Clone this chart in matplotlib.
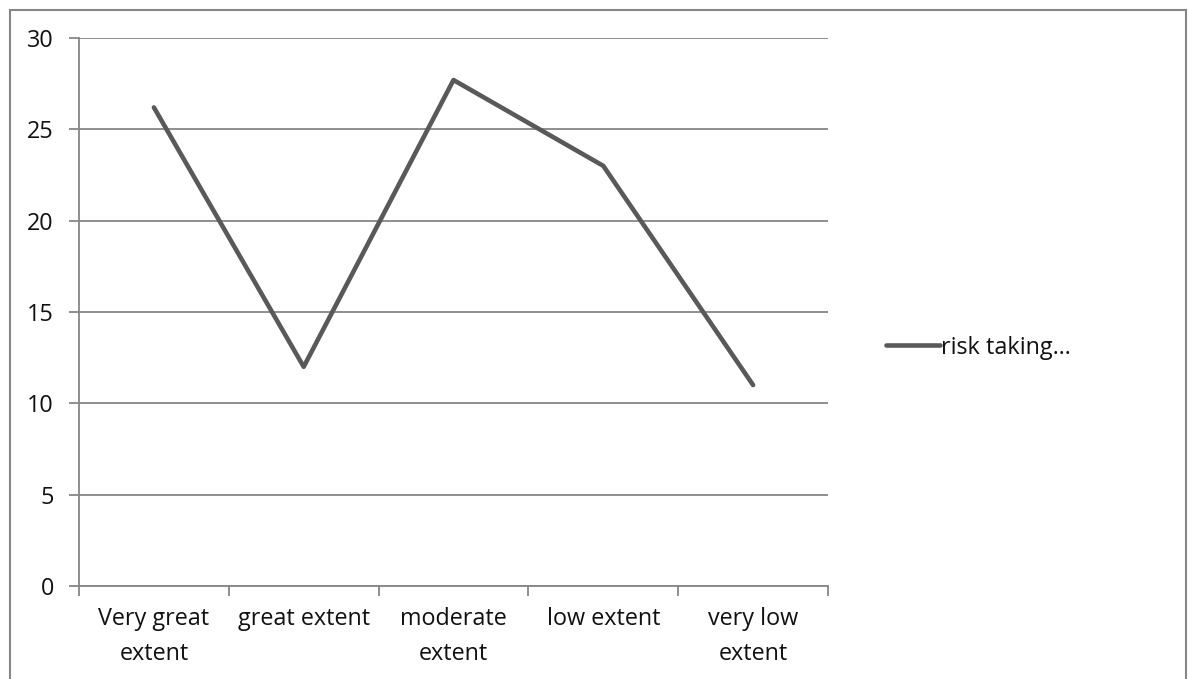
import matplotlib.pyplot as plt
from matplotlib.patches import Rectangle

# Data
categories = ['Very great\nextent', 'great extent', 'moderate\nextent', 'low extent', 'very low\nextent']
risk_taking = [26.2, 12.0, 27.7, 23.0, 11.0]
y_ticks = [0, 5, 10, 15, 20, 25, 30]
series_name = 'risk taking…'

plt.rcParams['font.family'] = ['Open Sans', 'DejaVu Sans']

W, H = 1189, 679
fig = plt.figure(figsize=(W / 100, H / 100), dpi=100)

# chart frame around the whole figure (bottom edge runs off the page)
fig.patches.append(Rectangle((10 / W, -0.05), 1175.5 / W, 1.05 - 9.5 / H,
                             transform=fig.transFigure, fill=False,
                             edgecolor='#868686', linewidth=1.5))

ax = fig.add_axes([79 / W, (H - 586) / H, (828 - 79) / W, (586 - 38) / H])

grid_col = '#868686'
fs = 16.8
x = [i + 0.5 for i in range(len(categories))]
ax.plot(x, risk_taking, color='#595959', linewidth=3.3,
        solid_capstyle='round', solid_joinstyle='round', label=series_name)

ax.set_xlim(0, len(categories))
ax.set_ylim(0, 30)
ax.set_yticks(y_ticks)
ax.yaxis.grid(True, color=grid_col, linewidth=1.3)
ax.set_axisbelow(True)

# category ticks sit between the categories, labels in the middle
ax.set_xticks(range(len(categories) + 1))
ax.set_xticklabels([])
ax.set_xticks(x, minor=True)
ax.set_xticklabels(categories, minor=True, fontsize=fs, color='#111111',
                   linespacing=1.6)
ax.tick_params(axis='x', which='minor', length=0, pad=15)
ax.tick_params(axis='x', which='major', length=7, width=1.3, color=grid_col, direction='out')
ax.tick_params(axis='y', length=7, width=1.3, color=grid_col, direction='out',
               labelsize=fs, labelcolor='#111111', pad=11)

for side in ['top', 'right']:
    ax.spines[side].set_visible(False)
for side in ['left', 'bottom']:
    ax.spines[side].set_color(grid_col)
    ax.spines[side].set_linewidth(1.3)

leg = ax.legend(loc='center left', bbox_to_anchor=(1.05, 0.435), frameon=False,
                fontsize=fs, handlelength=2.3, handletextpad=0.05)
for t in leg.get_texts():
    t.set_color('#111111')

fig.savefig('out.png', dpi=100, facecolor='white')
